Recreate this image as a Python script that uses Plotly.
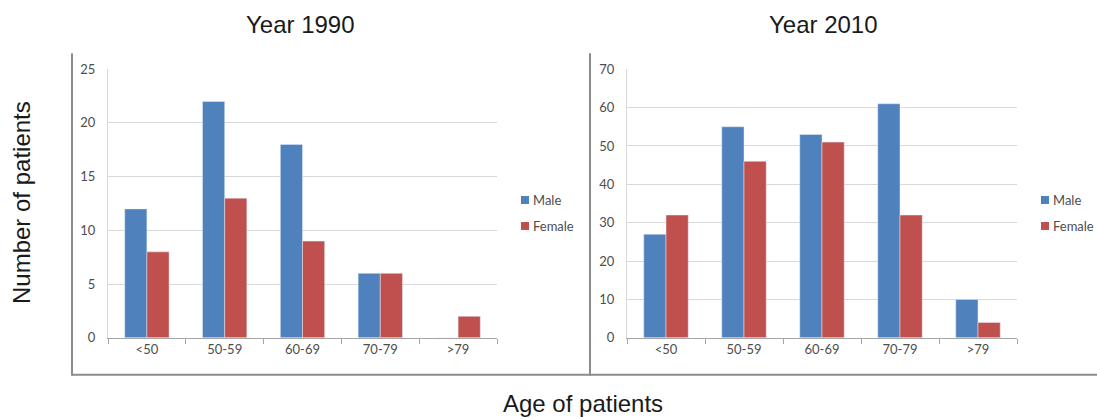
import plotly.graph_objects as go

W, H = 1097, 419

categories = ["<50", "50-59", "60-69", "70-79", ">79"]
male_1990 = [12, 22, 18, 6, 0]
female_1990 = [8, 13, 9, 6, 2]
male_2010 = [27, 55, 53, 61, 10]
female_2010 = [32, 46, 51, 32, 4]
series_names = ["Male", "Female"]
panel_titles = ["Year 1990", "Year 2010"]
y_title = "Number of patients"
x_title = "Age of patients"

BLUE = "#4F81BD"
RED = "#C0504D"
GRID = "#D9D9D9"
AXIS = "#A6A6A6"
FRAME = "#8C8C8C"
TXT = "#4d4d4d"

# the page photo adds 8px above/below the figure and scales it back to 419px high,
# so positions are given in window pixels and converted here
VS = 435 / 419


def px_x(x):
    return x / W


def px_y(y):
    return 1 - (y * VS - 8) / H


fig = go.Figure()

fig.add_trace(go.Bar(x=categories, y=male_1990, name=series_names[0], marker_color=BLUE,
                     xaxis="x", yaxis="y"))
fig.add_trace(go.Bar(x=categories, y=female_1990, name=series_names[1], marker_color=RED,
                     xaxis="x", yaxis="y"))
fig.add_trace(go.Bar(x=categories, y=male_2010, name=series_names[0], marker_color=BLUE,
                     xaxis="x2", yaxis="y2"))
fig.add_trace(go.Bar(x=categories, y=female_2010, name=series_names[1], marker_color=RED,
                     xaxis="x2", yaxis="y2"))

tickfont = dict(family="Lato, Liberation Sans, sans-serif", size=13, color=TXT)
ydom = [px_y(338), px_y(69)]

xcommon = dict(showline=True, linecolor=AXIS, linewidth=1, ticks="outside",
               tickson="boundaries", ticklen=5, tickcolor=AXIS, tickfont=tickfont,
               showgrid=False, zeroline=False, fixedrange=True)
ycommon = dict(showline=True, linecolor=GRID, linewidth=1, showgrid=True,
               gridcolor=GRID, gridwidth=1, ticks="", tickfont=tickfont,
               zeroline=False, ticklabelstandoff=9, fixedrange=True)

fig.update_layout(
    width=W, height=H,
    margin=dict(l=0, r=0, t=0, b=0),
    paper_bgcolor="white", plot_bgcolor="white",
    barmode="group", bargap=0.43, bargroupgap=0,
    showlegend=False,
    xaxis=dict(domain=[px_x(108), px_x(497)], anchor="y", **xcommon),
    yaxis=dict(domain=ydom, anchor="x", range=[0, 25], dtick=5, **ycommon),
    xaxis2=dict(domain=[px_x(627), px_x(1017)], anchor="y2", **xcommon),
    yaxis2=dict(domain=ydom, anchor="x2", range=[0, 70], dtick=10, **ycommon),
    font=dict(family="Liberation Sans, Arial, sans-serif"),
)

title_font = dict(family="Liberation Sans, Arial, sans-serif", size=24, color="#1a1a1a")
fig.add_annotation(text=panel_titles[0], x=px_x(300), y=px_y(24), xref="paper", yref="paper",
                   showarrow=False, font=title_font, xanchor="center", yanchor="middle")
fig.add_annotation(text=panel_titles[1], x=px_x(823), y=px_y(24), xref="paper", yref="paper",
                   showarrow=False, font=title_font, xanchor="center", yanchor="middle")
fig.add_annotation(text=y_title, x=px_x(21), y=px_y(203), xref="paper", yref="paper",
                   showarrow=False, textangle=-90,
                   font=dict(family="Liberation Sans, Arial, sans-serif", size=24, color="#1a1a1a"),
                   xanchor="center", yanchor="middle")
fig.add_annotation(text=x_title, x=px_x(583), y=px_y(404), xref="paper", yref="paper",
                   showarrow=False, font=title_font, xanchor="center", yanchor="middle")

# custom legends (Excel style: small square right next to label)
leg_font = dict(family="Lato, Liberation Sans, sans-serif", size=13, color=TXT)
for lx in (521, 1041):
    for name, color, cy in ((series_names[0], BLUE, 200), (series_names[1], RED, 226)):
        fig.add_shape(type="rect", xref="paper", yref="paper",
                      x0=px_x(lx), x1=px_x(lx + 8), y0=px_y(cy + 4), y1=px_y(cy - 4),
                      fillcolor=color, line=dict(width=0))
        fig.add_annotation(text=name, x=px_x(lx + 10), y=px_y(cy), xref="paper", yref="paper",
                           showarrow=False, font=leg_font, xanchor="left", yanchor="middle")

line = dict(color=FRAME, width=2)
fig.add_shape(type="line", xref="paper", yref="paper",
              x0=px_x(72), x1=px_x(72), y0=px_y(53), y1=px_y(376), line=line)
fig.add_shape(type="line", xref="paper", yref="paper",
              x0=px_x(590), x1=px_x(590), y0=px_y(53), y1=px_y(376), line=line)
fig.add_shape(type="line", xref="paper", yref="paper",
              x0=px_x(72), x1=px_x(1097), y0=px_y(375), y1=px_y(375), line=line)

post = "document.body.style.margin='0';document.body.style.overflow='hidden';"
fig.write_html("out.html", config={"displayModeBar": False}, post_script=post)
